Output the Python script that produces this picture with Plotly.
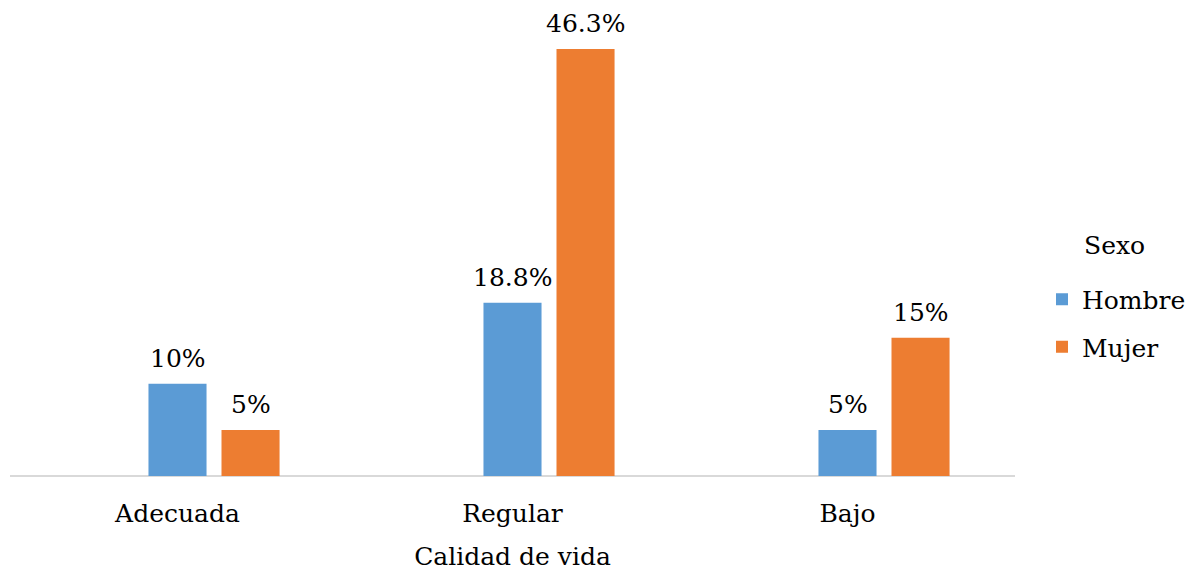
import plotly.graph_objects as go

categories = ["Adecuada", "Regular", "Bajo"]
hombre = [10, 18.8, 5]
mujer = [5, 46.3, 15]
hombre_labels = ["10%", "18.8%", "5%"]
mujer_labels = ["5%", "46.3%", "15%"]

FONT = "DejaVu Serif"
FS = 25
BLUE = "#5B9BD5"
ORANGE = "#ED7D31"
BARGAP = 0.346
xs = list(range(len(categories)))
slot = (1 - BARGAP) / 3

# page body has an 8px default margin -> figure is 8px smaller and offset
W, H = 1188, 566
L, R, T, B = 2, 181, 7, 98
pw, ph = W - L - R, H - T - B
OFF = 8

fig = go.Figure()
# empty first series (reserves the left slot in each group, as in the original)
fig.add_trace(go.Bar(x=xs, y=[0, 0, 0], marker=dict(color="rgba(0,0,0,0)", line=dict(width=0)),
                     showlegend=False, hoverinfo="skip"))
fig.add_trace(go.Bar(x=xs, y=hombre, name="Hombre", marker=dict(color=BLUE, line=dict(width=0)),
                     legendgroup="h"))
fig.add_trace(go.Bar(x=xs, y=mujer, name="Mujer", marker=dict(color=ORANGE, line=dict(width=0)),
                     legendgroup="m"))

tf = dict(family=FONT, size=FS, color="#000")
anns = []
for i in xs:
    anns.append(dict(x=i, y=hombre[i], text=hombre_labels[i], xref="x", yref="y",
                     showarrow=False, yanchor="bottom", yshift=9, font=tf))
    anns.append(dict(x=i + slot, y=mujer[i], text=mujer_labels[i], xref="x", yref="y",
                     showarrow=False, yanchor="bottom", yshift=9, font=tf))
anns.append(dict(x=(1082 - OFF - L) / pw, y=(H - B - (245 - OFF)) / ph, xref="paper", yref="paper",
                 text="Sexo", showarrow=False, xanchor="left", yanchor="middle", font=tf))

fig.update_layout(
    annotations=anns,
    width=W, height=H,
    margin=dict(l=L, r=R, t=T, b=B, autoexpand=False),
    barmode="group", bargap=BARGAP, bargroupgap=0.205,
    plot_bgcolor="white", paper_bgcolor="white",
    font=tf,
    xaxis=dict(tickmode="array", tickvals=xs, ticktext=categories, range=[-0.5, 2.5],
               showgrid=False, zeroline=False, showline=False, ticks="", automargin=False,
               tickfont=tf, ticklabelstandoff=20,
               title=dict(text="Calidad de vida", font=tf, standoff=20)),
    yaxis=dict(range=[0, 50], showgrid=False, showticklabels=False, ticks="", automargin=False,
               zeroline=True, zerolinecolor="#D9D9D9", zerolinewidth=2, showline=False),
    legend=dict(x=(1042 - OFF - L) / pw, y=(H - B - (323 - OFF)) / ph, xanchor="left",
                yanchor="middle", font=tf, tracegroupgap=12, bgcolor="rgba(0,0,0,0)"),
    showlegend=True,
)

fig.write_html("out.html")
